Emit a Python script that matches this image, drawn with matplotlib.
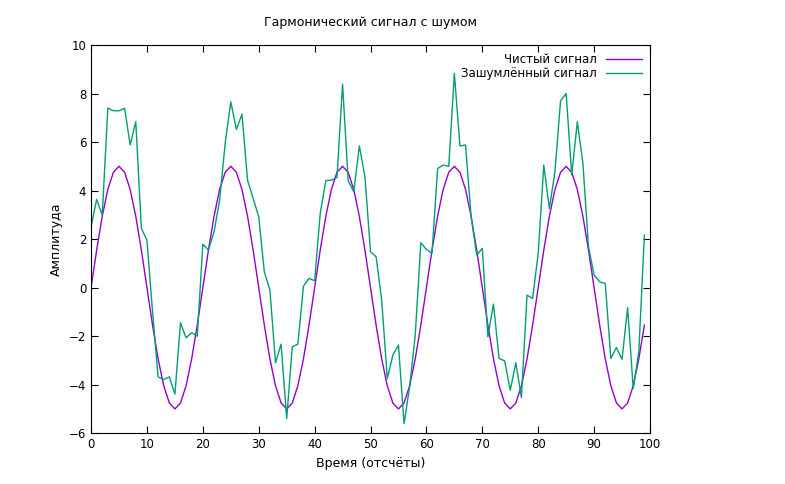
import numpy as np
import matplotlib
matplotlib.use("Agg")
import matplotlib.pyplot as plt

t = np.arange(100)
clean = 5 * np.sin(2 * np.pi * t / 20)
noisy = [2.5, 3.64, 2.99, 7.4, 7.29, 7.29, 7.39, 5.88, 6.84, 2.44,
         1.96, -1.0, -3.68, -3.79, -3.68, -4.39, -1.45, -2.07, -1.86, -2.0,
         1.79, 1.55, 2.3, 3.6, 5.95, 7.66, 6.52, 7.15, 4.43, 3.68,
         2.92, 0.65, -0.1, -3.1, -2.33, -5.4, -2.44, -2.33, 0.06, 0.38,
         0.28, 3.06, 4.41, 4.43, 4.54, 8.39, 4.41, 3.95, 5.84, 4.57,
         1.48, 1.27, -0.52, -3.75, -2.78, -2.37, -5.6, -4.09, -1.96, 1.85,
         1.57, 1.41, 4.91, 5.05, 5.0, 8.83, 5.84, 5.88, 2.92, 1.34,
         1.62, -2.03, -0.68, -2.92, -3.02, -4.23, -3.1, -4.53, -0.31, -0.45,
         1.41, 5.05, 3.26, 4.78, 7.7, 8.0, 4.64, 6.84, 5.12, 1.68,
         0.52, 0.24, 0.17, -2.92, -2.47, -2.96, -0.83, -4.16, -2.65, 2.16]

plt.rcParams['font.family'] = ['DejaVu Sans']
fig = plt.figure(figsize=(7.85, 4.84), dpi=100)
ax = fig.add_axes([0.116, 0.105, 0.712, 0.802])
ax.plot(t, clean, color='#9400d3', lw=1, label='Чистый сигнал')
ax.plot(t, noisy, color='#009e73', lw=1, label='Зашумлённый сигнал')
ax.set_xlim(0, 100)
ax.set_ylim(-6, 10)
ax.set_xticks(range(0, 101, 10))
ax.set_yticks(range(-6, 11, 2))
ax.tick_params(direction='in', top=True, right=True, labelsize=8.5, length=5)
ax.set_title('Гармонический сигнал с шумом', fontsize=9, pad=14)
ax.set_xlabel('Время (отсчёты)', fontsize=9)
ax.set_ylabel('Амплитуда', fontsize=9)
ax.legend(loc='upper right', frameon=False, markerfirst=False, fontsize=8.5,
          handlelength=3, borderaxespad=0.3, labelspacing=0.1)
fig.savefig('out.png', dpi=100)
